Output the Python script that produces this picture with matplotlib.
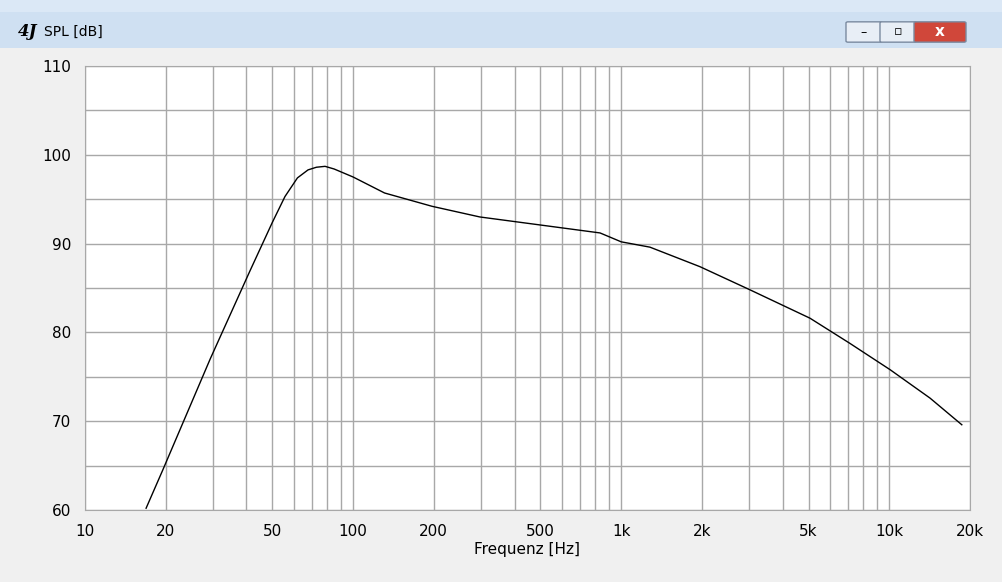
import matplotlib
matplotlib.use("Agg")
import matplotlib.pyplot as plt
from matplotlib.patches import Rectangle, FancyBboxPatch
import numpy as np

freq = [16.9, 19.5, 29.3, 41.2, 50, 55.7, 62, 67.9, 73, 78.6, 85, 100, 131, 197, 297, 498, 834, 1000, 1280, 1967, 3020, 5060, 7100, 10070, 14190, 18640]
spl = [60.2, 64.5, 77.0, 86.9, 92.4, 95.3, 97.4, 98.3, 98.6, 98.7, 98.4, 97.5, 95.7, 94.2, 93.0, 92.1, 91.2, 90.2, 89.6, 87.4, 84.8, 81.6, 78.8, 75.8, 72.6, 69.6]
xticks = [10, 20, 50, 100, 200, 500, 1000, 2000, 5000, 10000, 20000]
xlabels = ["10", "20", "50", "100", "200", "500", "1k", "2k", "5k", "10k", "20k"]
yticks = [60, 70, 80, 90, 100, 110]

W, H = 1003, 582
fig = plt.figure(figsize=(W/100, H/100), dpi=100)
fig.patch.set_facecolor("#f0f0f0")
fig.patches.append(Rectangle((0, 1-48/H), 1, 48/H, transform=fig.transFigure, facecolor="#cfe0f2", edgecolor="none"))
fig.patches.append(Rectangle((0, 1-12/H), 1, 12/H, transform=fig.transFigure, facecolor="#dbe8f6", edgecolor="none"))
fig.text(18/W, 1-32/H, "4J", fontsize=12, fontweight="bold", style="italic", family="DejaVu Serif", va="center")
fig.text(44/W, 1-32/H, "SPL [dB]", fontsize=10, va="center")
for x0, w, c in [(848, 32, "#e8eef6"), (882, 32, "#e8eef6"), (916, 48, "#d0473a")]:
    fig.patches.append(FancyBboxPatch((x0/W, 1-41/H), w/W, 18/H, boxstyle="round,pad=0.002", transform=fig.transFigure, facecolor=c, edgecolor="#7a8aa0"))
fig.text(864/W, 1-33/H, "–", ha="center", va="center", fontsize=9)
fig.text(898/W, 1-32/H, "▫", ha="center", va="center", fontsize=9)
fig.text(940/W, 1-32/H, "x", ha="center", va="center", fontsize=11, color="white", fontweight="bold")

ax = fig.add_axes([85/W, (H-510)/H, 885/W, 444/H])
ax.set_facecolor("white")
ax.set_xscale("log")
ax.set_xlim(10, 20000)
ax.set_ylim(60, 110)
ax.set_xticks(xticks)
ax.set_xticklabels(xlabels)
ax.set_yticks(yticks)
ax.minorticks_off()
minor = [m*10**e for e in range(1, 5) for m in range(1, 10) if 10 <= m*10**e <= 20000]
for f in minor:
    ax.axvline(f, color="#a8a8a8", lw=1, zorder=1)
for y in np.arange(60, 111, 5):
    ax.axhline(y, color="#a8a8a8", lw=1, zorder=1)
ax.tick_params(length=0, labelsize=11, pad=10)
for s in ax.spines.values():
    s.set_color("#a8a8a8")
ax.plot(freq, spl, color="black", lw=1, zorder=3)
ax.set_xlabel("Frequenz [Hz]", fontsize=11, labelpad=2)
fig.savefig("out.png", dpi=100, facecolor=fig.get_facecolor())
